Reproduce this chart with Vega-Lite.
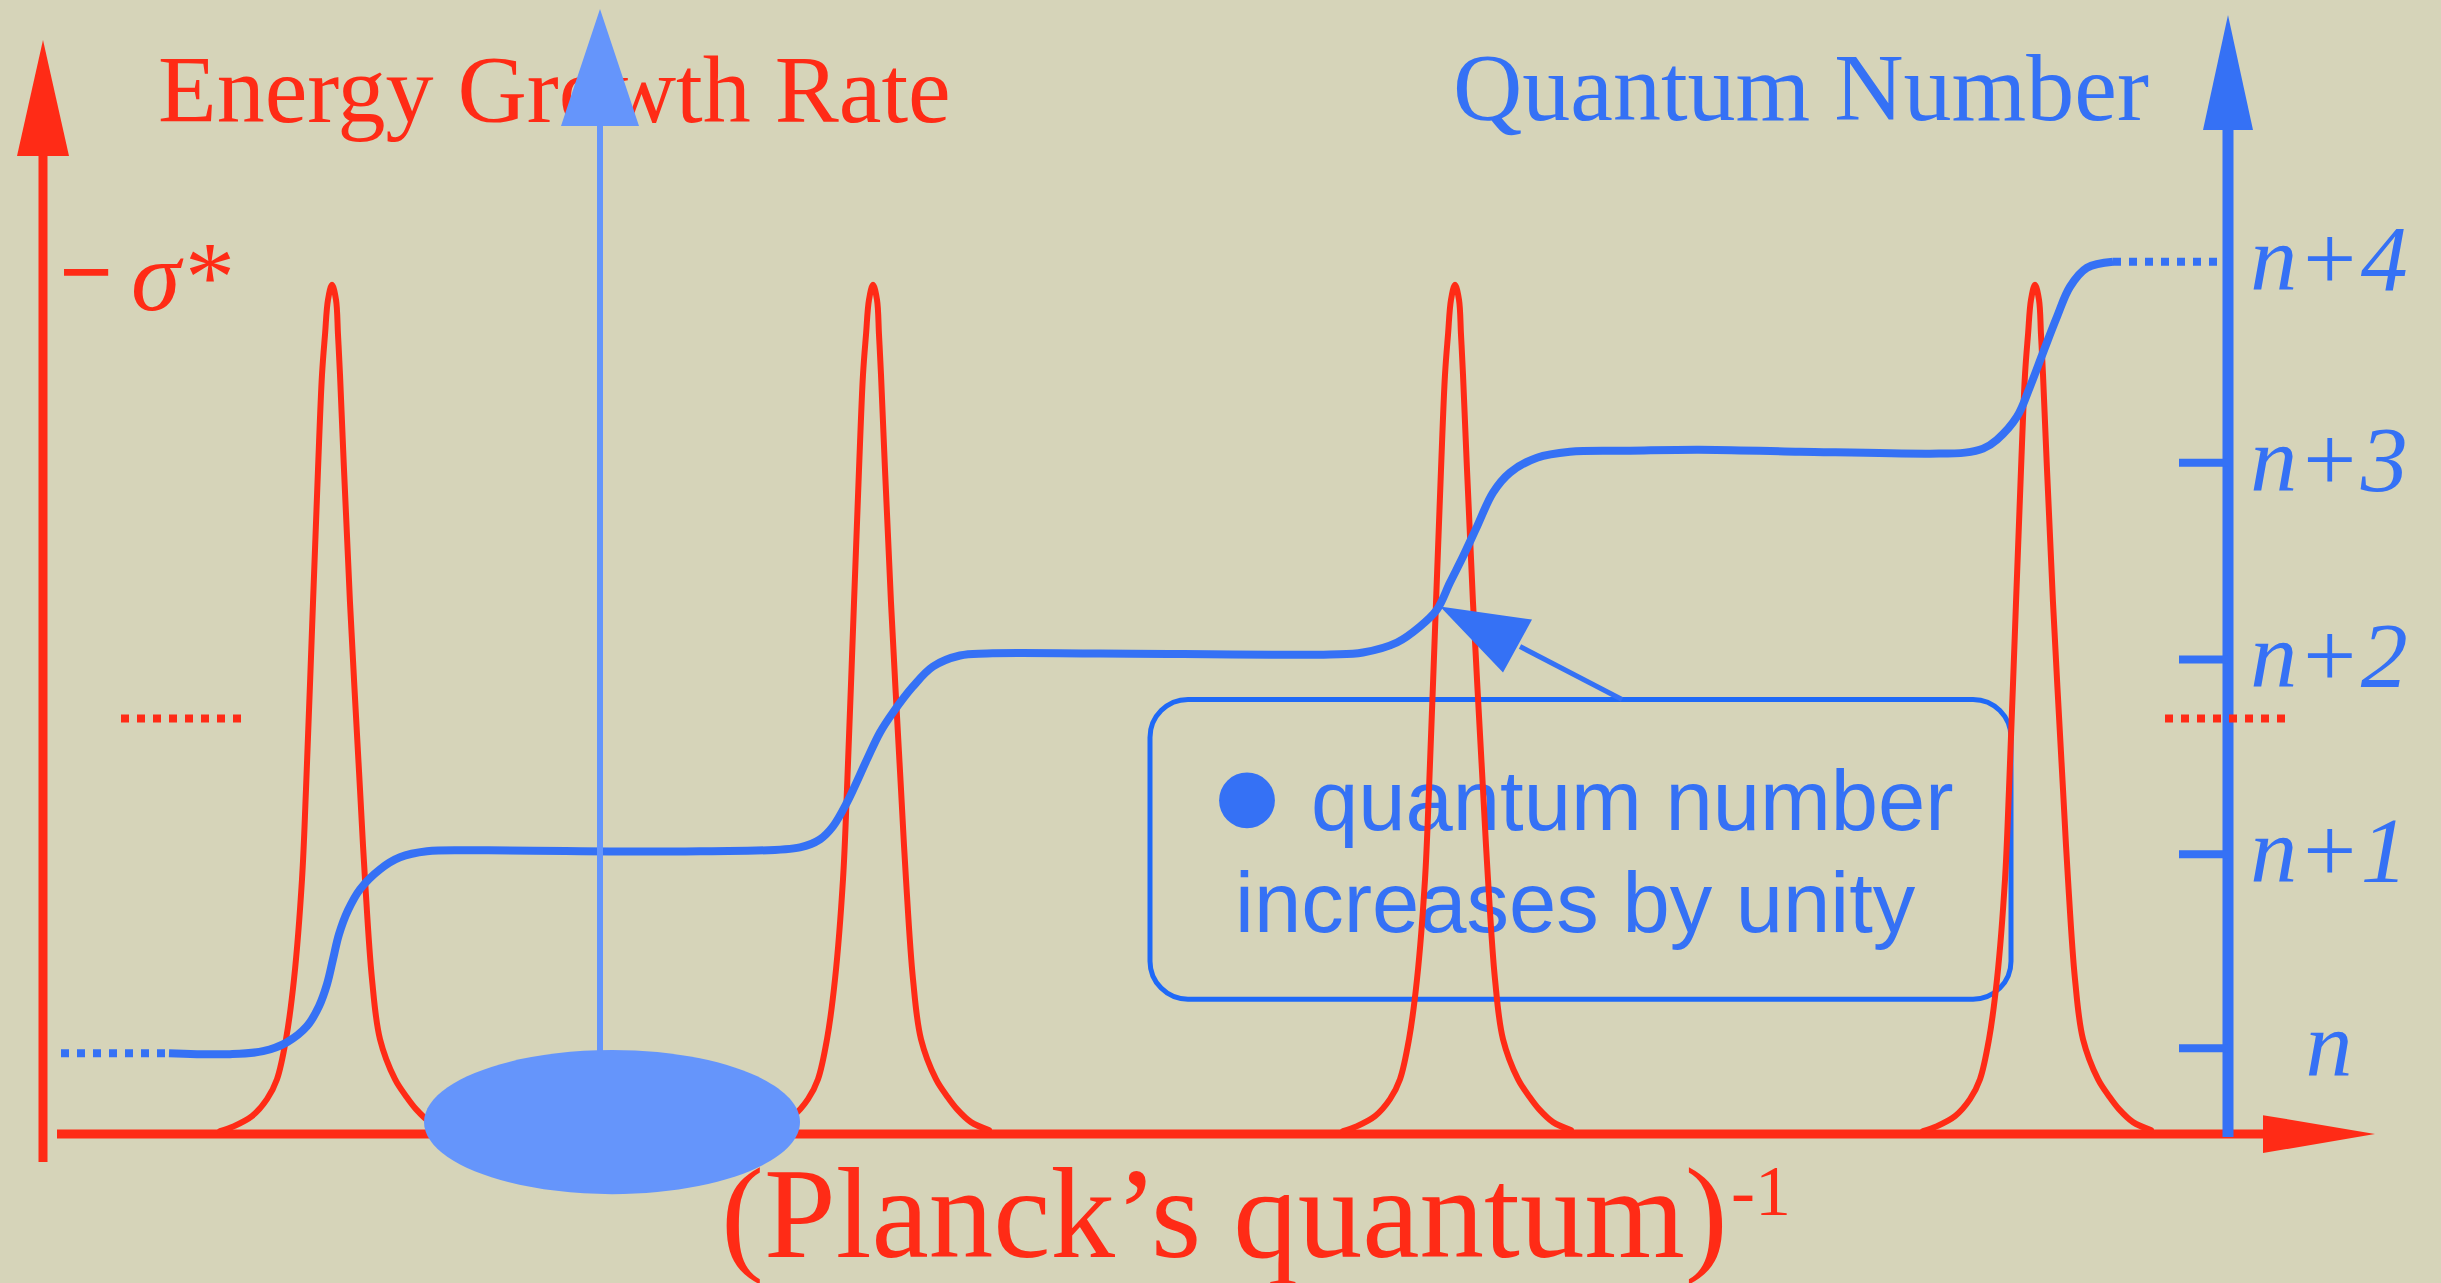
{
  "$schema": "https://vega.github.io/schema/vega-lite/v6.json",
  "width": 2441,
  "height": 1283,
  "autosize": {"type": "fit", "contains": "padding"},
  "padding": 0,
  "background": "#d6d4b9",
  "config": {"view": {"stroke": null}, "axis": {"disable": true}},
  "datasets": {
    "segments": [
      {"part": "energy", "x": 0, "y": -28, "x2": 0, "y2": 1000},
      {"part": "abscissa", "x": 14, "y": 0, "x2": 2240, "y2": 0},
      {"part": "quantum", "x": 2185, "y": -3, "x2": 2185, "y2": 1020},
      {"part": "pointer", "x": 557, "y": 12, "x2": 557, "y2": 1020},
      {"part": "callout", "x": 1579, "y": 435, "x2": 1477, "y2": 488}
    ],
    "heads": [
      {"series": "energy", "x": -26, "y": 979, "y2": 979},
      {"series": "energy", "x": 0, "y": 1095, "y2": 979},
      {"series": "energy", "x": 26, "y": 979, "y2": 979},
      {"series": "quantum", "x": 2160, "y": 1005, "y2": 1005},
      {"series": "quantum", "x": 2185, "y": 1120, "y2": 1005},
      {"series": "quantum", "x": 2210, "y": 1005, "y2": 1005},
      {"series": "pointer", "x": 518, "y": 1009, "y2": 1009},
      {"series": "pointer", "x": 557, "y": 1126, "y2": 1009},
      {"series": "pointer", "x": 596, "y": 1009, "y2": 1009},
      {"series": "callout", "x": 1397, "y": 528, "y2": 528},
      {"series": "callout", "x": 1460, "y": 519, "y2": 462},
      {"series": "callout", "x": 1489, "y": 515, "y2": 515}
    ],
    "abscissaHead": [
      {"y": 19, "x": 2220, "x2": 2220},
      {"y": 0, "x": 2332, "x2": 2220},
      {"y": -19, "x": 2220, "x2": 2220}
    ],
    "dotted": [
      {"series": "quantum", "x": 18, "x2": 126, "y": 81},
      {"series": "quantum", "x": 2070, "x2": 2184, "y": 873},
      {"series": "energy", "x": 78, "x2": 200, "y": 416},
      {"series": "energy", "x": 2122, "x2": 2242, "y": 416}
    ],
    "levels": [
      {"level": "n", "x": 2185, "y": 86},
      {"level": "n+1", "x": 2185, "y": 280},
      {"level": "n+2", "x": 2185, "y": 475},
      {"level": "n+3", "x": 2185, "y": 672},
      {"level": "n+4", "x": 2185, "y": 873}
    ],
    "peaks": [
      {"peak": "A", "x": 177, "y": 3}, {"peak": "A", "x": 191, "y": 8}, {"peak": "A", "x": 209, "y": 18}, {"peak": "A", "x": 224, "y": 35}, {"peak": "A", "x": 234, "y": 55}, {"peak": "A", "x": 243, "y": 95}, {"peak": "A", "x": 251, "y": 155}, {"peak": "A", "x": 259, "y": 255}, {"peak": "A", "x": 263, "y": 345}, {"peak": "A", "x": 270, "y": 532}, {"peak": "A", "x": 275, "y": 665}, {"peak": "A", "x": 279, "y": 760}, {"peak": "A", "x": 282, "y": 800}, {"peak": "A", "x": 285, "y": 835}, {"peak": "A", "x": 289, "y": 850}, {"peak": "A", "x": 293, "y": 835}, {"peak": "A", "x": 295, "y": 800}, {"peak": "A", "x": 297, "y": 760}, {"peak": "A", "x": 301, "y": 665}, {"peak": "A", "x": 307, "y": 532}, {"peak": "A", "x": 317, "y": 345}, {"peak": "A", "x": 322, "y": 255}, {"peak": "A", "x": 329, "y": 155}, {"peak": "A", "x": 337, "y": 95}, {"peak": "A", "x": 352, "y": 55}, {"peak": "A", "x": 363, "y": 38}, {"peak": "A", "x": 373, "y": 25}, {"peak": "A", "x": 387, "y": 12}, {"peak": "A", "x": 405, "y": 4},
      {"peak": "B", "x": 718, "y": 3}, {"peak": "B", "x": 732, "y": 8}, {"peak": "B", "x": 750, "y": 18}, {"peak": "B", "x": 765, "y": 35}, {"peak": "B", "x": 775, "y": 55}, {"peak": "B", "x": 784, "y": 95}, {"peak": "B", "x": 792, "y": 155}, {"peak": "B", "x": 800, "y": 255}, {"peak": "B", "x": 804, "y": 345}, {"peak": "B", "x": 811, "y": 532}, {"peak": "B", "x": 816, "y": 665}, {"peak": "B", "x": 820, "y": 760}, {"peak": "B", "x": 823, "y": 800}, {"peak": "B", "x": 826, "y": 835}, {"peak": "B", "x": 830, "y": 850}, {"peak": "B", "x": 834, "y": 835}, {"peak": "B", "x": 836, "y": 800}, {"peak": "B", "x": 838, "y": 760}, {"peak": "B", "x": 842, "y": 665}, {"peak": "B", "x": 848, "y": 532}, {"peak": "B", "x": 858, "y": 345}, {"peak": "B", "x": 863, "y": 255}, {"peak": "B", "x": 870, "y": 155}, {"peak": "B", "x": 878, "y": 95}, {"peak": "B", "x": 893, "y": 55}, {"peak": "B", "x": 904, "y": 38}, {"peak": "B", "x": 914, "y": 25}, {"peak": "B", "x": 928, "y": 12}, {"peak": "B", "x": 946, "y": 4},
      {"peak": "C", "x": 1300, "y": 3}, {"peak": "C", "x": 1314, "y": 8}, {"peak": "C", "x": 1332, "y": 18}, {"peak": "C", "x": 1347, "y": 35}, {"peak": "C", "x": 1357, "y": 55}, {"peak": "C", "x": 1366, "y": 95}, {"peak": "C", "x": 1374, "y": 155}, {"peak": "C", "x": 1382, "y": 255}, {"peak": "C", "x": 1386, "y": 345}, {"peak": "C", "x": 1393, "y": 532}, {"peak": "C", "x": 1398, "y": 665}, {"peak": "C", "x": 1402, "y": 760}, {"peak": "C", "x": 1405, "y": 800}, {"peak": "C", "x": 1408, "y": 835}, {"peak": "C", "x": 1412, "y": 850}, {"peak": "C", "x": 1416, "y": 835}, {"peak": "C", "x": 1418, "y": 800}, {"peak": "C", "x": 1420, "y": 760}, {"peak": "C", "x": 1424, "y": 665}, {"peak": "C", "x": 1430, "y": 532}, {"peak": "C", "x": 1440, "y": 345}, {"peak": "C", "x": 1445, "y": 255}, {"peak": "C", "x": 1452, "y": 155}, {"peak": "C", "x": 1460, "y": 95}, {"peak": "C", "x": 1475, "y": 55}, {"peak": "C", "x": 1486, "y": 38}, {"peak": "C", "x": 1496, "y": 25}, {"peak": "C", "x": 1510, "y": 12}, {"peak": "C", "x": 1528, "y": 4},
      {"peak": "D", "x": 1880, "y": 3}, {"peak": "D", "x": 1894, "y": 8}, {"peak": "D", "x": 1912, "y": 18}, {"peak": "D", "x": 1927, "y": 35}, {"peak": "D", "x": 1937, "y": 55}, {"peak": "D", "x": 1946, "y": 95}, {"peak": "D", "x": 1954, "y": 155}, {"peak": "D", "x": 1962, "y": 255}, {"peak": "D", "x": 1966, "y": 345}, {"peak": "D", "x": 1973, "y": 532}, {"peak": "D", "x": 1978, "y": 665}, {"peak": "D", "x": 1982, "y": 760}, {"peak": "D", "x": 1985, "y": 800}, {"peak": "D", "x": 1988, "y": 835}, {"peak": "D", "x": 1992, "y": 850}, {"peak": "D", "x": 1996, "y": 835}, {"peak": "D", "x": 1998, "y": 800}, {"peak": "D", "x": 2000, "y": 760}, {"peak": "D", "x": 2004, "y": 665}, {"peak": "D", "x": 2010, "y": 532}, {"peak": "D", "x": 2020, "y": 345}, {"peak": "D", "x": 2025, "y": 255}, {"peak": "D", "x": 2032, "y": 155}, {"peak": "D", "x": 2040, "y": 95}, {"peak": "D", "x": 2055, "y": 55}, {"peak": "D", "x": 2066, "y": 38}, {"peak": "D", "x": 2076, "y": 25}, {"peak": "D", "x": 2090, "y": 12}, {"peak": "D", "x": 2108, "y": 4}
    ],
    "staircase": [
      {"x": 126, "y": 81}, {"x": 187, "y": 80}, {"x": 220, "y": 83}, {"x": 244, "y": 92}, {"x": 264, "y": 108}, {"x": 276, "y": 128}, {"x": 284, "y": 150}, {"x": 290, "y": 175}, {"x": 296, "y": 200}, {"x": 305, "y": 224}, {"x": 317, "y": 245}, {"x": 337, "y": 265}, {"x": 357, "y": 277}, {"x": 384, "y": 283}, {"x": 437, "y": 284},
      {"x": 657, "y": 283}, {"x": 757, "y": 287}, {"x": 777, "y": 295}, {"x": 790, "y": 308}, {"x": 804, "y": 332}, {"x": 824, "y": 375}, {"x": 837, "y": 402}, {"x": 850, "y": 422}, {"x": 870, "y": 448}, {"x": 890, "y": 468}, {"x": 917, "y": 479}, {"x": 944, "y": 481}, {"x": 1057, "y": 481},
      {"x": 1287, "y": 480}, {"x": 1320, "y": 482}, {"x": 1354, "y": 492}, {"x": 1377, "y": 508}, {"x": 1394, "y": 525}, {"x": 1407, "y": 552}, {"x": 1420, "y": 578}, {"x": 1434, "y": 608}, {"x": 1450, "y": 642}, {"x": 1467, "y": 662}, {"x": 1494, "y": 677}, {"x": 1527, "y": 683}, {"x": 1587, "y": 684}, {"x": 1656, "y": 685},
      {"x": 1757, "y": 683}, {"x": 1887, "y": 681}, {"x": 1922, "y": 682}, {"x": 1940, "y": 686}, {"x": 1954, "y": 695}, {"x": 1974, "y": 718}, {"x": 1987, "y": 748}, {"x": 2000, "y": 782}, {"x": 2014, "y": 818}, {"x": 2027, "y": 848}, {"x": 2044, "y": 867}, {"x": 2070, "y": 873}
    ],
    "callout": [{"x": 1107, "x2": 1968, "y": 135, "y2": 435}],
    "bullet": [{"x": 1204, "y": 334}],
    "notes": [
      {"label": "quantum number", "x": 1268, "y": 304},
      {"label": "increases by unity", "x": 1192, "y": 202}
    ],
    "ensemble": [{"x": 569, "y": 12}],
    "titles": [
      {"key": "energy", "label": "Energy Growth Rate", "x": 115, "y": 1013},
      {"key": "quantum", "label": "Quantum Number", "x": 1410, "y": 1015},
      {"key": "minus", "label": "−", "x": 16, "y": 831},
      {"key": "sigma", "label": "σ*", "x": 88, "y": 825},
      {"key": "planck", "label": "(Planck’s quantum)", "x": 678, "y": -123},
      {"key": "power", "label": "-1", "x": 1688, "y": -81}
    ]
  },
  "encoding": {
    "x": {"field": "x", "type": "quantitative", "axis": null, "scale": {"domain": [-43, 2398], "nice": false, "zero": false}},
    "y": {"field": "y", "type": "quantitative", "axis": null, "scale": {"domain": [-148, 1135], "nice": false, "zero": false}}
  },
  "layer": [
    {
      "data": {"name": "callout"},
      "mark": {"type": "rect", "filled": false, "stroke": "#1f69f7", "strokeWidth": 5, "cornerRadius": 38},
      "encoding": {"x2": {"field": "x2"}, "y2": {"field": "y2"}}
    },
    {
      "data": {"name": "bullet"},
      "mark": {"type": "point", "shape": "circle", "filled": true, "size": 3117, "opacity": 1, "color": "#3571f5", "strokeWidth": 0}
    },
    {
      "data": {"name": "notes"},
      "mark": {"type": "text", "font": "Liberation Sans", "fontSize": 85, "color": "#3571f5", "align": "left", "baseline": "alphabetic"},
      "encoding": {"text": {"field": "label"}}
    },
    {
      "data": {"name": "segments"},
      "transform": [{"filter": "datum.part == 'energy' || datum.part == 'abscissa'"}],
      "mark": {"type": "rule", "color": "#ff2b16", "strokeWidth": 9, "strokeCap": "butt"},
      "encoding": {"x2": {"field": "x2"}, "y2": {"field": "y2"}}
    },
    {
      "data": {"name": "peaks"},
      "mark": {"type": "line", "color": "#ff2b16", "strokeWidth": 6, "interpolate": "catmull-rom", "strokeJoin": "round", "strokeCap": "round"},
      "encoding": {"detail": {"field": "peak"}}
    },
    {
      "data": {"name": "segments"},
      "transform": [{"filter": "datum.part == 'quantum'"}],
      "mark": {"type": "rule", "color": "#3571f5", "strokeWidth": 11, "strokeCap": "butt"},
      "encoding": {"x2": {"field": "x2"}, "y2": {"field": "y2"}}
    },
    {
      "data": {"name": "levels"},
      "transform": [{"filter": "datum.level != 'n+4'"}],
      "mark": {"type": "point", "shape": "M-2,0L0,0", "size": 2401, "filled": false, "opacity": 1, "color": "#3571f5", "strokeWidth": 8, "strokeCap": "butt"}
    },
    {
      "data": {"name": "levels"},
      "mark": {"type": "text", "font": "Liberation Serif", "fontStyle": "italic", "fontSize": 94, "color": "#3571f5", "align": "center", "baseline": "alphabetic", "dx": 101, "dy": 28},
      "encoding": {"text": {"field": "level"}}
    },
    {
      "data": {"name": "staircase"},
      "mark": {"type": "line", "color": "#3571f5", "strokeWidth": 8, "interpolate": "catmull-rom", "strokeJoin": "round", "strokeCap": "butt"}
    },
    {
      "data": {"name": "dotted"},
      "mark": {"type": "rule", "strokeWidth": 8, "strokeDash": [8, 8], "strokeCap": "butt"},
      "encoding": {
        "x2": {"field": "x2"},
        "color": {"field": "series", "type": "nominal", "legend": null, "scale": {"domain": ["energy", "quantum", "pointer", "callout"], "range": ["#ff2b16", "#3571f5", "#6595fb", "#3571f5"]}}
      }
    },
    {
      "data": {"name": "segments"},
      "transform": [{"filter": "datum.part == 'pointer'"}],
      "mark": {"type": "rule", "color": "#6595fb", "strokeWidth": 6, "strokeCap": "butt"},
      "encoding": {"x2": {"field": "x2"}, "y2": {"field": "y2"}}
    },
    {
      "data": {"name": "ensemble"},
      "mark": {"type": "point", "shape": "M-1,0A1,0.383,0,1,0,1,0A1,0.383,0,1,0,-1,0Z", "filled": true, "size": 141376, "opacity": 1, "color": "#6595fb", "strokeWidth": 0}
    },
    {
      "data": {"name": "titles"},
      "transform": [{"filter": "datum.key == 'energy'"}],
      "mark": {"type": "text", "font": "Liberation Serif", "fontSize": 96, "color": "#ff2b16", "align": "left", "baseline": "alphabetic"},
      "encoding": {"text": {"field": "label"}}
    },
    {
      "data": {"name": "titles"},
      "transform": [{"filter": "datum.key == 'quantum'"}],
      "mark": {"type": "text", "font": "Liberation Serif", "fontSize": 96, "color": "#3571f5", "align": "left", "baseline": "alphabetic"},
      "encoding": {"text": {"field": "label"}}
    },
    {
      "data": {"name": "titles"},
      "transform": [{"filter": "datum.key == 'minus'"}],
      "mark": {"type": "text", "font": "Liberation Serif", "fontWeight": "bold", "fontSize": 95, "color": "#ff2b16", "align": "left", "baseline": "alphabetic"},
      "encoding": {"text": {"field": "label"}}
    },
    {
      "data": {"name": "titles"},
      "transform": [{"filter": "datum.key == 'sigma'"}],
      "mark": {"type": "text", "font": "Liberation Serif", "fontStyle": "italic", "fontSize": 100, "color": "#ff2b16", "align": "left", "baseline": "alphabetic"},
      "encoding": {"text": {"field": "label"}}
    },
    {
      "data": {"name": "titles"},
      "transform": [{"filter": "datum.key == 'planck'"}],
      "mark": {"type": "text", "font": "Liberation Serif", "fontSize": 129, "color": "#ff2b16", "align": "left", "baseline": "alphabetic"},
      "encoding": {"text": {"field": "label"}}
    },
    {
      "data": {"name": "titles"},
      "transform": [{"filter": "datum.key == 'power'"}],
      "mark": {"type": "text", "font": "Liberation Serif", "fontSize": 72, "color": "#ff2b16", "align": "left", "baseline": "alphabetic"},
      "encoding": {"text": {"field": "label"}}
    },
    {
      "data": {"name": "segments"},
      "transform": [{"filter": "datum.part == 'callout'"}],
      "mark": {"type": "rule", "color": "#3571f5", "strokeWidth": 5, "strokeCap": "butt"},
      "encoding": {"x2": {"field": "x2"}, "y2": {"field": "y2"}}
    },
    {
      "data": {"name": "heads"},
      "mark": {"type": "area", "opacity": 1, "interpolate": "linear"},
      "encoding": {
        "y": {"field": "y", "type": "quantitative", "axis": null, "stack": null},
        "y2": {"field": "y2"},
        "color": {"field": "series", "type": "nominal", "legend": null},
        "detail": {"field": "series"}
      }
    },
    {
      "data": {"name": "abscissaHead"},
      "mark": {"type": "area", "orient": "horizontal", "opacity": 1, "color": "#ff2b16"},
      "encoding": {
        "x": {"field": "x", "type": "quantitative", "axis": null, "stack": null},
        "x2": {"field": "x2"}
      }
    }
  ]
}
